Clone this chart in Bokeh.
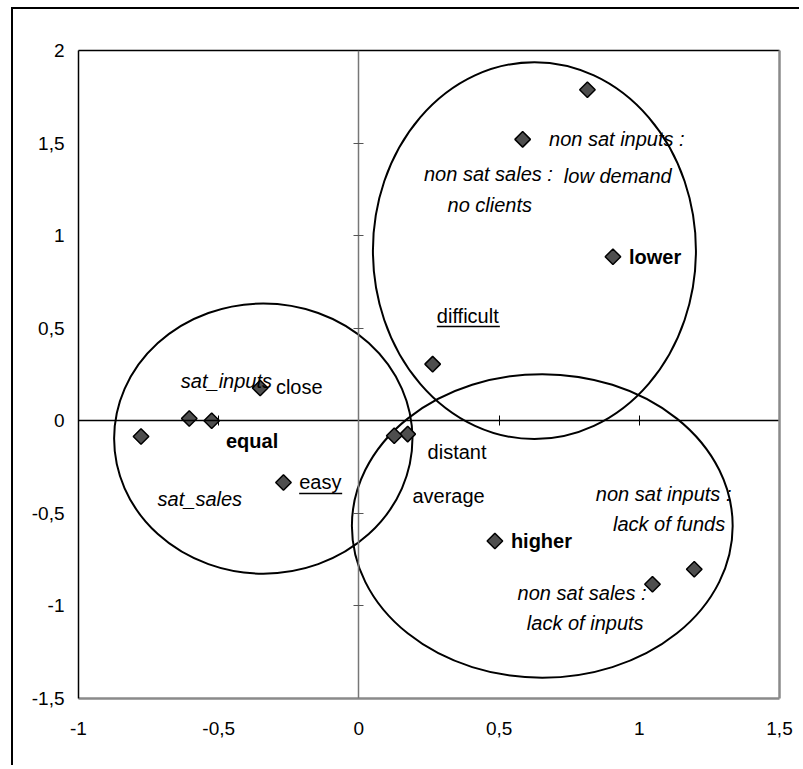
import math
from bokeh.plotting import figure
from bokeh.models import LinearAxis, FixedTicker, Range1d
from bokeh.core.properties import value
from bokeh.embed import file_html
from bokeh.resources import INLINE

# ---------------- data ----------------
point_x = [0.815, 0.584, 0.906, 0.263, 0.174, 0.126, -0.777, -0.605, -0.525, -0.352, -0.269, 0.485, 1.047, 1.196]
point_y = [1.788, 1.52, 0.886, 0.306, -0.072, -0.081, -0.085, 0.012, 0.0, 0.177, -0.333, -0.649, -0.883, -0.802]

ellipse_x = [0.626, -0.341, 0.654]
ellipse_y = [0.919, -0.096, -0.568]
ellipse_w = [1.152, 1.064, 1.358]
ellipse_h = [2.036, 1.460, 1.640]

italic_text = ["non sat inputs :", "non sat sales :", "low demand", "no clients", "sat_inputs",
               "sat_sales", "non sat inputs :", "lack of funds", "non sat sales :", "lack of inputs"]
italic_x = [0.678, 0.232, 0.731, 0.316, -0.635, -0.718, 0.845, 0.906, 0.566, 0.599]
italic_y = [1.52, 1.335, 1.324, 1.168, 0.216, -0.423, -0.396, -0.558, -0.928, -1.09]

bold_text = ["lower", "equal", "higher"]
bold_x = [0.963, -0.474, 0.542]
bold_y = [0.886, -0.108, -0.649]

plain_text = ["close", "distant", "average"]
plain_x = [-0.296, 0.245, 0.191]
plain_y = [0.18, -0.171, -0.405]

underlined_text = ["difficult", "easy"]
underlined_x = [0.278, -0.213]
underlined_y = [0.568, -0.333]

x_ticks = [-1, -0.5, 0, 0.5, 1, 1.5]
x_tick_labels = ["-1", "-0,5", "0", "0,5", "1", "1,5"]
y_ticks = [-1.5, -1, -0.5, 0, 0.5, 1, 1.5, 2]
y_tick_labels = ["-1,5", "-1", "-0,5", "0", "0,5", "1", "1,5", "2"]

x_range = (-1, 1.5)
y_range = (-1.5, 2)

# ---------------- layout/style ----------------
W, H = 788, 758
BL, BR, BT, BB = 65, 22, 41, 69
FONT = "Liberation Sans"
FS = "20px"

p = figure(width=W, height=H, output_backend="svg", toolbar_location=None,
           x_range=Range1d(*x_range), y_range=Range1d(*y_range),
           min_border_left=BL, min_border_right=BR, min_border_top=BT, min_border_bottom=BB,
           x_axis_location=None, y_axis_location=None,
           background_fill_color="white", border_fill_color="white",
           outline_line_color=None)
p.grid.visible = False
p.styles = {"border-left": "2px solid black", "border-top": "2px solid black",
            "margin-left": "11px", "margin-top": "7px"}


def outer_axis(loc, ticks, labels, color, lw, show_labels, standoff=12):
    ax = LinearAxis(ticker=FixedTicker(ticks=ticks))
    ax.major_label_overrides = {t: (l if show_labels else "") for t, l in zip(ticks, labels)}
    ax.major_tick_in = 0
    ax.major_tick_out = 0
    ax.minor_tick_line_color = None
    ax.axis_line_color = color
    ax.axis_line_width = lw
    ax.major_label_text_font = FONT
    ax.major_label_text_font_size = "19px" if show_labels else "0px"
    ax.major_label_text_color = "black"
    ax.major_label_standoff = standoff
    p.add_layout(ax, loc)
    return ax


outer_axis("left", y_ticks, y_tick_labels, "black", 1.5, True, 14)
outer_axis("below", x_ticks, x_tick_labels, "#8a8a8a", 2.5, True, 23)
outer_axis("above", x_ticks, x_tick_labels, "black", 1.5, False)
outer_axis("right", y_ticks, y_tick_labels, "#8a8a8a", 2.5, False)

# centre cross axes
vx = LinearAxis(ticker=FixedTicker(ticks=[t for t in y_ticks if t not in (0, y_range[0], y_range[1])]),
                fixed_location=0)
vx.major_label_overrides = {t: "" for t in y_ticks}
vx.major_label_text_font_size = "0px"
vx.major_tick_in = 5
vx.major_tick_out = 5
vx.minor_tick_line_color = None
vx.axis_line_color = "#777777"
vx.major_tick_line_color = "#555555"
vx.axis_line_width = 1.5
p.add_layout(vx, "left")

hx = LinearAxis(ticker=FixedTicker(ticks=[t for t in x_ticks if t not in (0, x_range[0], x_range[1])]),
                fixed_location=0)
hx.major_label_overrides = {t: "" for t in x_ticks}
hx.major_label_text_font_size = "0px"
hx.major_tick_in = 5
hx.major_tick_out = 5
hx.minor_tick_line_color = None
hx.axis_line_color = "black"
hx.major_tick_line_color = "black"
hx.axis_line_width = 1.3
p.add_layout(hx, "below")

# ellipses
p.ellipse(x=ellipse_x, y=ellipse_y, width=ellipse_w, height=ellipse_h,
          fill_color=None, line_color="black", line_width=2)

# points
p.scatter(point_x, point_y, marker="square", angle=math.pi / 4, size=11,
          fill_color="#4e4e4e", line_color="black", line_width=1.5)

common = dict(text_font=value(FONT), text_font_size=FS, text_color="black",
              text_baseline="middle", text_align="left")
p.text(italic_x, italic_y, text=italic_text, text_font_style="italic", **common)
p.text(bold_x, bold_y, text=bold_text, text_font_style="bold", **common)
p.text(plain_x, plain_y, text=plain_text, **common)
p.text(underlined_x, underlined_y, text=underlined_text, **common)

# underlines (style: measured word widths in px, converted to data units)
frame_w = W - BL - BR
frame_h = H - BT - BB
ux = (x_range[1] - x_range[0]) / frame_w
uy = (y_range[1] - y_range[0]) / frame_h
word_px = [63, 43]
ul_x0 = [x for x in underlined_x]
ul_x1 = [x + w * ux for x, w in zip(underlined_x, word_px)]
ul_y = [y - 11 * uy for y in underlined_y]
p.segment(ul_x0, ul_y, ul_x1, ul_y, line_color="black", line_width=1.5)

open("out.html", "w").write(file_html(p, INLINE))
